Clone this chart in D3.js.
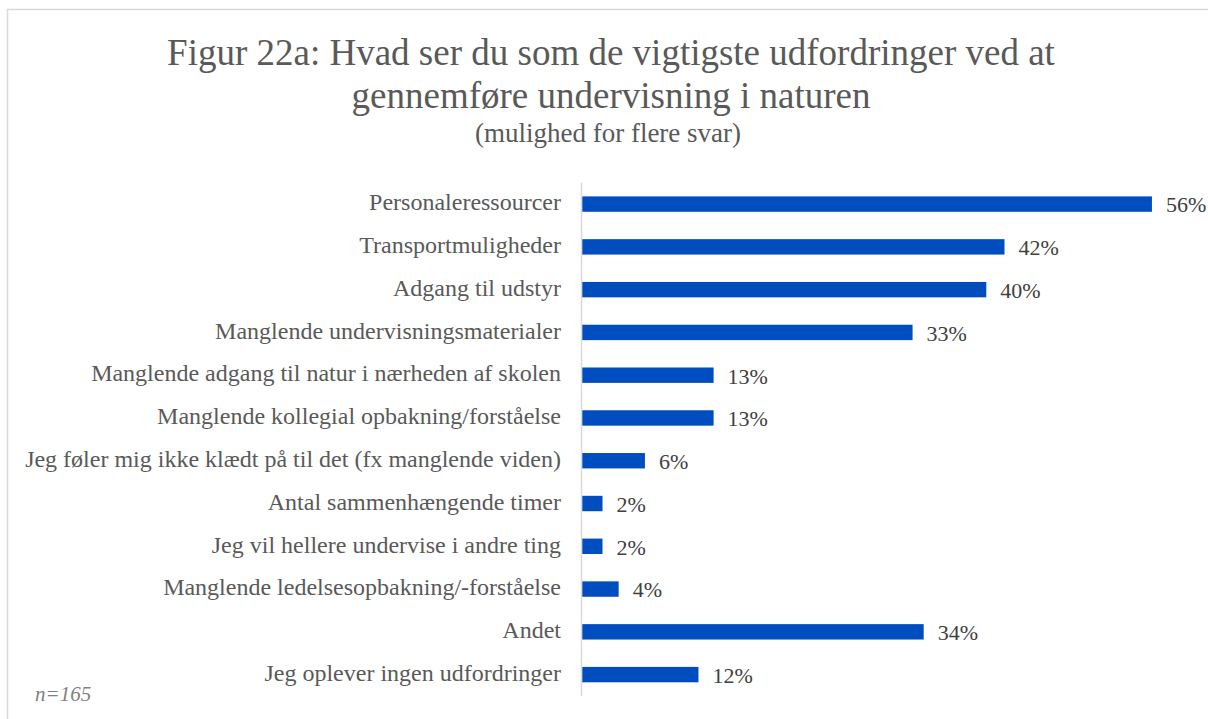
<!DOCTYPE html>
<html>
<head>
<meta charset="utf-8">
<script src="https://cdn.jsdelivr.net/npm/d3@7"></script>
<style>
  html, body { margin: 0; padding: 0; background: #fff; }
  svg { display: block; }
</style>
</head>
<body>
<svg id="chart" width="1208" height="719"></svg>
<script>
// categories top to bottom
const categories = [
  "Personaleressourcer",
  "Transportmuligheder",
  "Adgang til udstyr",
  "Manglende undervisningsmaterialer",
  "Manglende adgang til natur i nærheden af skolen",
  "Manglende kollegial opbakning/forståelse",
  "Jeg føler mig ikke klædt på til det (fx manglende viden)",
  "Antal sammenhængende timer",
  "Jeg vil hellere undervise i andre ting",
  "Manglende ledelsesopbakning/-forståelse",
  "Andet",
  "Jeg oplever ingen udfordringer"
];

// share of respondents, in percent (labels are rounded)
const values = [56.4, 41.8, 40.0, 32.7, 13.0, 13.0, 6.2, 2.0, 2.0, 3.6, 33.8, 11.5];

const titleLines = [
  "Figur 22a: Hvad ser du som de vigtigste udfordringer ved at",
  "gennemføre undervisning i naturen"
];
const subtitle = "(mulighed for flere svar)";
const note = "n=165";

const svg = d3.select("#chart");
const font = "'Liberation Serif', 'Times New Roman', serif";

// outer frame
svg.append("rect")
  .attr("x", 7.5)
  .attr("y", 9.5)
  .attr("width", 1220)
  .attr("height", 730)
  .attr("fill", "#fff")
  .attr("stroke", "#d9d9d9")
  .attr("stroke-width", 1.5);

// title
svg.selectAll("text.title")
  .data(titleLines)
  .join("text")
  .attr("class", "title")
  .attr("x", 611)
  .attr("y", (d, i) => 65 + i * 43)
  .attr("text-anchor", "middle")
  .style("font-family", font)
  .style("font-size", "37px")
  .style("fill", "#595959")
  .text(d => d);

svg.append("text")
  .attr("x", 608)
  .attr("y", 142)
  .attr("text-anchor", "middle")
  .style("font-family", font)
  .style("font-size", "27px")
  .style("fill", "#595959")
  .text(subtitle);

const x = d3.scaleLinear()
  .domain([0, 60])
  .range([582.3, 582.3 + 60 * 10.1]);

const y = d3.scaleBand()
  .domain(categories)
  .range([182.7, 696])
  .paddingInner(0.64)
  .paddingOuter(0.32);

// vertical axis line
svg.append("line")
  .attr("x1", x(0) - 0.8)
  .attr("x2", x(0) - 0.8)
  .attr("y1", y.range()[0])
  .attr("y2", y.range()[1])
  .attr("stroke", "#d9d9d9")
  .attr("stroke-width", 1.5);

// bars
svg.selectAll("rect.bar")
  .data(values)
  .join("rect")
  .attr("class", "bar")
  .attr("x", x(0))
  .attr("y", (d, i) => y(categories[i]))
  .attr("width", d => x(d) - x(0))
  .attr("height", y.bandwidth())
  .attr("fill", "#004dc0");

// category labels
svg.selectAll("text.cat")
  .data(categories)
  .join("text")
  .attr("class", "cat")
  .attr("x", 561)
  .attr("y", d => y(d) + y.bandwidth() / 2)
  .attr("dy", "0.26em")
  .attr("text-anchor", "end")
  .style("font-family", font)
  .style("font-size", "24px")
  .style("fill", "#595959")
  .text(d => d);

// value labels
const fmt = d3.format(".0f");
svg.selectAll("text.val")
  .data(values)
  .join("text")
  .attr("class", "val")
  .attr("x", d => x(d) + 14)
  .attr("y", (d, i) => y(categories[i]) + y.bandwidth() / 2)
  .attr("dy", "0.38em")
  .style("font-family", font)
  .style("font-size", "22px")
  .style("fill", "#404040")
  .text(d => fmt(d) + "%");

// sample size note
svg.append("text")
  .attr("x", 35)
  .attr("y", 701)
  .style("font-family", font)
  .style("font-size", "21px")
  .style("font-style", "italic")
  .style("fill", "#7f7f7f")
  .text(note);
</script>
</body>
</html>
